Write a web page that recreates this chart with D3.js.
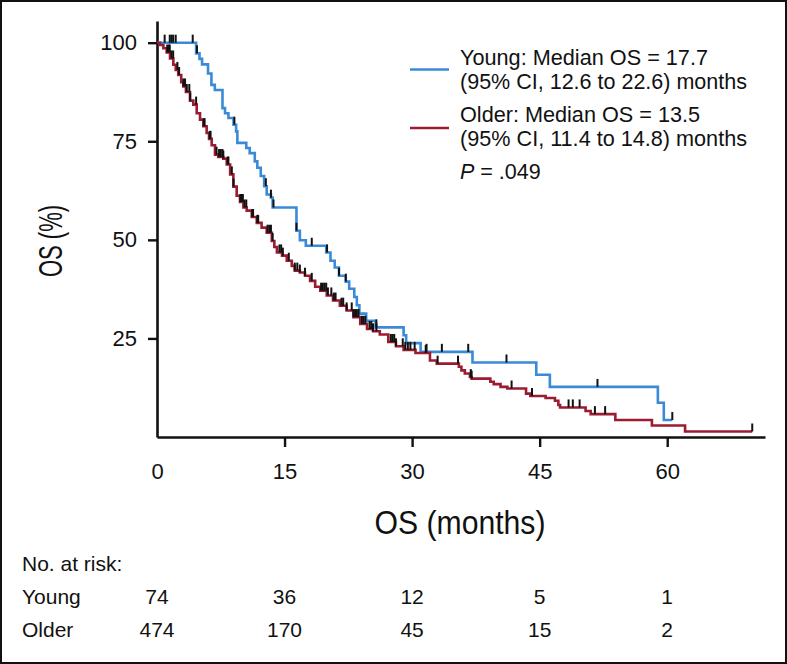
<!DOCTYPE html>
<html><head><meta charset="utf-8">
<script src="https://cdn.jsdelivr.net/npm/d3@7"></script>
<style>
body{margin:0;background:#fff}
svg{display:block}
text{font-family:"Liberation Sans",Arial,Helvetica,sans-serif;fill:#111}
</style>
</head><body>
<svg id="c" width="787" height="664"></svg>
<script>
// ---- data ----
const youngSteps = [[0,100],[4.6,97.3],[5.0,95.9],[5.3,94.5],[6.0,92.2],[6.4,89.3],[6.8,88.0],[7.7,83.4],[8.0,82.1],[8.4,80.9],[9.0,79.2],[9.3,77.5],[9.45,74.6],[10.5,73.3],[10.9,72.0],[11.5,69.9],[11.8,68.3],[12.2,66.2],[12.6,63.6],[12.9,61.5],[13.4,60.7],[13.6,58.2],[16.4,52.3],[16.8,49.9],[17.5,48.5],[19.9,46.8],[20.4,44.7],[20.9,43.0],[21.4,40.9],[22.2,39.4],[22.6,37.6],[23.2,35.5],[23.5,33.4],[23.8,31.3],[24.6,29.5],[25.7,27.8],[29.0,25.8],[29.3,23.8],[31.0,21.6],[37.1,18.9],[44.6,15.8],[46.2,12.7],[58.9,8.7],[59.6,4.3]];
const youngEnd = 60.6;
const youngCensor = [0.9,1.5,1.7,1.9,2.2,4.2,4.7,9.1,12.8,13.4,13.7,16.4,18.2,20.0,21.4,22.2,25.8,31.7,33.5,36.6,41.1,51.8,60.6];

const olderSteps = [[0,100],[0.35,99.4],[0.75,98.6],[1.14,97.5],[1.53,96.0],[1.92,94.4],[2.2,93.1],[2.5,91.8],[2.85,90.0],[3.1,88.9],[3.4,87.5],[3.88,85.3],[4.27,84.3],[4.67,82.1],[5.06,80.5],[5.45,78.8],[5.84,77.1],[6.12,75.6],[6.43,74.0],[6.82,71.6],[7.2,71.0],[7.8,70.6],[8.2,69.1],[8.6,66.6],[8.98,63.5],[9.37,61.2],[9.76,59.6],[10.16,58.2],[10.55,57.4],[11.14,55.8],[11.73,54.3],[12.3,53.1],[12.9,51.8],[13.5,49.7],[13.8,48.2],[14.1,46.8],[14.7,46.0],[15.26,44.7],[15.85,43.4],[16.2,42.2],[16.8,41.7],[17.4,40.9],[18.0,39.6],[18.6,38.1],[19.2,37.1],[19.96,35.9],[20.7,34.6],[21.5,33.3],[22.3,32.1],[23.1,30.4],[23.9,28.7],[24.7,27.4],[25.4,26.8],[26.2,26.0],[27.2,24.1],[28.1,23.0],[29.0,22.1],[30.4,21.3],[32.1,19.4],[32.9,18.6],[35.5,17.8],[35.8,16.9],[36.2,16.1],[36.8,15.2],[37.0,14.8],[39.2,14.0],[39.6,13.4],[40.4,12.7],[41.2,12.3],[43.4,11.0],[43.9,10.4],[45.7,9.9],[46.8,9.2],[47.2,8.1],[47.4,7.5],[50.4,6.6],[51.0,5.8],[53.9,4.3],[58.2,2.9],[62.1,1.4]];
const olderEnd = 70.0;
const olderCensor = [1.2,1.4,1.5,1.7,1.9,2.4,2.6,3.1,3.3,3.5,3.8,3.9,4.6,5.5,5.6,6.2,6.3,7.0,7.3,7.5,7.7,7.8,8.3,8.4,8.8,9.0,9.8,9.9,10.1,10.3,10.5,11.2,11.3,11.8,11.9,13.0,13.2,13.4,13.6,14.4,14.6,14.8,15.5,16.2,16.5,16.8,17.4,18.2,19.3,19.5,19.7,19.9,20.1,20.5,20.8,21.0,21.7,21.9,22.3,22.9,23.1,23.3,23.5,23.7,24.1,24.3,24.5,25.0,25.2,25.4,25.8,27.5,27.7,27.9,28.1,28.9,29.2,29.5,29.8,30.3,31.6,33.0,35.4,36.9,37.0,41.7,44.1,48.4,48.9,49.7,51.5,52.7,70.0];

const xTicks = [0,15,30,45,60];
const yTicks = [25,50,75,100];
const riskGroups = ["Young","Older"];
const riskYoung = [74,36,12,5,1];
const riskOlder = [474,170,45,15,2];
const legendLines = [
  ["Young: Median OS = 17.7","(95% CI, 12.6 to 22.6) months"],
  ["Older: Median OS = 13.5","(95% CI, 11.4 to 14.8) months"]
];
const pText = ".049";

// ---- drawing ----
const BLUE = "#3a8ad8", RED = "#9b1b31";
const svg = d3.select("#c");
svg.append("rect").attr("x",1).attr("y",1).attr("width",785).attr("height",662)
  .attr("fill","#fff").attr("stroke","#111").attr("stroke-width",2);

const x = d3.scaleLinear().domain([0,71.5]).range([157,765]);
const y = d3.scaleLinear().domain([0,105.5]).range([437,21]);

// axes
const gx = svg.append("g").attr("transform",`translate(0,${y(0)})`)
  .call(d3.axisBottom(x).tickValues(xTicks).tickSize(10).tickSizeOuter(0).tickPadding(16).tickFormat(d3.format("d")));
const gy = svg.append("g").attr("transform",`translate(${x(0)},0)`)
  .call(d3.axisLeft(y).tickValues(yTicks).tickSize(9).tickSizeOuter(0).tickPadding(11).tickFormat(d3.format("d")));
[gx,gy].forEach(g=>{
  g.select(".domain").attr("stroke","#111").attr("stroke-width",2.6);
  g.selectAll(".tick line").attr("stroke","#111").attr("stroke-width",2.4);
  g.selectAll(".tick text").attr("font-size",22).attr("fill","#111")
   .attr("font-family","'Liberation Sans',Arial,sans-serif");
});
gx.selectAll(".tick line").filter(d=>d===0).remove();

// curves
const line = d3.line().x(d=>x(d[0])).y(d=>y(d[1])).curve(d3.curveStepAfter);
function series(steps,end,censor,color){
  const pts = steps.concat([[end, steps[steps.length-1][1]]]);
  svg.append("path").attr("d",line(pts)).attr("fill","none").attr("stroke",color)
    .attr("stroke-width",2.6).attr("stroke-linejoin","miter");
  return {steps,censor};
}
function survAt(steps,t){let s=steps[0][1];for(const [tt,v] of steps){if(tt<=t)s=v;else break;}return s;}
const sY = series(youngSteps,youngEnd,youngCensor,BLUE);
const sO = series(olderSteps,olderEnd,olderCensor,RED);
[sY,sO].forEach(o=>{
  svg.append("g").selectAll("line").data(o.censor).join("line")
    .attr("x1",d=>x(d)).attr("x2",d=>x(d))
    .attr("y1",d=>y(survAt(o.steps,d))).attr("y2",d=>y(survAt(o.steps,d))-8)
    .attr("stroke","#111").attr("stroke-width",2);
});

// legend
const lg = svg.append("g");
const lens = [[248,287],[240,287]];
[[BLUE,69.5,64.5],[RED,128,122]].forEach((c,i)=>{
  lg.append("line").attr("x1",410).attr("x2",449).attr("y1",c[1]).attr("y2",c[1])
    .attr("stroke",c[0]).attr("stroke-width",2.6);
  lg.append("text").attr("x",460).attr("y",c[2]).attr("font-size",21.5)
    .attr("textLength",lens[i][0]).attr("lengthAdjust","spacingAndGlyphs").text(legendLines[i][0]);
  lg.append("text").attr("x",460).attr("y",c[2]+24).attr("font-size",21.5)
    .attr("textLength",lens[i][1]).attr("lengthAdjust","spacingAndGlyphs").text(legendLines[i][1]);
});
const pt = lg.append("text").attr("x",460).attr("y",179).attr("font-size",21.5);
pt.append("tspan").attr("font-style","italic").text("P");
pt.append("tspan").text(" = "+pText);

// axis titles
svg.append("text").attr("x",460).attr("y",534).attr("text-anchor","middle")
  .attr("font-size",34).attr("textLength",171).attr("lengthAdjust","spacingAndGlyphs").text("OS (months)");
svg.append("text").attr("transform","translate(62,241) rotate(-90)").attr("text-anchor","middle")
  .attr("font-size",34).attr("textLength",72).attr("lengthAdjust","spacingAndGlyphs").text("OS (%)");

// risk table
svg.append("text").attr("x",22).attr("y",571).attr("font-size",21).text("No. at risk:");
const riskRows = [riskYoung, riskOlder];
riskGroups.forEach((g,i)=>{
  const yy = 604 + i*33;
  svg.append("text").attr("x",22).attr("y",yy).attr("font-size",21).text(g);
  svg.append("g").selectAll("text").data(riskRows[i]).join("text")
    .attr("x",(d,j)=>x(xTicks[j])).attr("y",yy).attr("text-anchor","middle")
    .attr("font-size",21).text(d=>d);
});
</script>
</body></html>
